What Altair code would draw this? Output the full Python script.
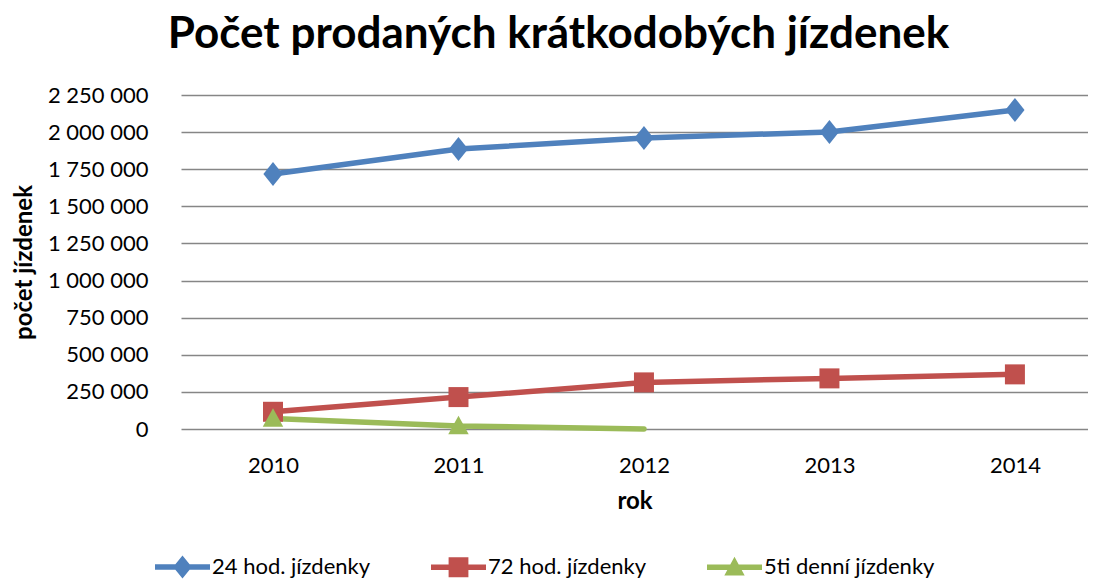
import altair as alt
import pandas as pd

years = [2010, 2011, 2012, 2013, 2014]
series_names = ["24 hod. jízdenky", "72 hod. jízdenky", "5ti denní jízdenky"]
vals_24h = [1718000, 1886000, 1960000, 2001000, 2149000]
vals_72h = [116000, 215000, 314000, 341000, 368000]
vals_5d = [70000, 20000, 0]
colors = ["#4F81BD", "#C0504D", "#9BBB59"]
y_ticks = [0, 250000, 500000, 750000, 1000000, 1250000, 1500000, 1750000, 2000000, 2250000]

rows = []
for y, v in zip(years, vals_24h):
    rows.append({"rok": y, "serie": series_names[0], "hodnota": v, "marker": True})
for y, v in zip(years, vals_72h):
    rows.append({"rok": y, "serie": series_names[1], "hodnota": v, "marker": True})
for y, v in zip(years[:3], vals_5d):
    rows.append({"rok": y, "serie": series_names[2], "hodnota": v, "marker": v > 0})
df = pd.DataFrame(rows)

FONT = "Lato"

marker_paths = ["M0,-1L0.8,0L0,1L-0.8,0Z", "M-1,-1L1,-1L1,1L-1,1Z", "M0,-1L1,0.8L-1,0.8Z"]
marker_sizes = [576, 400, 420]

leg_diamond = "M-1,-0.1L1,-0.1L1,0.1L-1,0.1Z M0,-0.42L0.34,0L0,0.42L-0.34,0Z"
leg_square = "M-1,-0.1L1,-0.1L1,0.1L-1,0.1Z M-0.36,-0.36L0.36,-0.36L0.36,0.36L-0.36,0.36Z"
leg_triangle = "M-1,-0.1L1,-0.1L1,0.1L-1,0.1Z M0,-0.38L0.37,0.3L-0.37,0.3Z"

shape_sig = (
    f"datum.value === '{series_names[0]}' ? '{leg_diamond}' : "
    f"datum.value === '{series_names[1]}' ? '{leg_square}' : '{leg_triangle}'"
)
fill_sig = (
    f"datum.value === '{series_names[0]}' ? '{colors[0]}' : "
    f"datum.value === '{series_names[1]}' ? '{colors[1]}' : '{colors[2]}'"
)

x_enc = alt.X(
    "rok:Q",
    scale=alt.Scale(domain=[2009.504, 2014.394], nice=False, zero=False),
    axis=alt.Axis(
        values=years, format="d", title="rok", grid=False, ticks=False, domain=False,
        labelFont=FONT, labelFontSize=22, labelColor="#000", labelPadding=26,
        titleFont=FONT, titleFontSize=24, titleFontWeight="bold", titleColor="#000",
        titleY=60, titleBaseline="top",
    ),
)
y_enc = alt.Y(
    "hodnota:Q",
    scale=alt.Scale(domain=[0, 2250000], nice=False),
    axis=alt.Axis(
        values=y_ticks, title="počet jízdenek", labelOverlap=False,
        labelExpr="replace(format(datum.value, ','), /,/g, ' ')",
        grid=True, gridColor="#868686", gridWidth=1.5, ticks=False, domain=False,
        labelFont=FONT, labelFontSize=22, labelColor="#000", labelPadding=33,
        titleFont=FONT, titleFontSize=24, titleFontWeight="bold", titleColor="#000",
        titleX=-145, titleAngle=-90,
    ),
)

legend = alt.Legend(
    title=None, orient="none", direction="horizontal", columns=3,
    legendX=-26, legendY=444,
    symbolSize=3025, symbolType={"expr": shape_sig},
    symbolFillColor={"expr": fill_sig}, symbolStrokeColor={"expr": fill_sig},
    symbolStrokeWidth=0, symbolOpacity=1,
    labelFont=FONT, labelFontSize=22, labelColor="#000", labelLimit=400,
    labelOffset=2, columnPadding=60,
)
color_enc = alt.Color("serie:N", scale=alt.Scale(domain=series_names, range=colors), legend=legend)

base = alt.Chart(df).encode(x=x_enc, y=y_enc, color=color_enc)

layers = [base.mark_line(strokeWidth=5.5, strokeJoin="round", strokeCap="round").encode(detail="serie:N")]
for name, path, size in zip(series_names, marker_paths, marker_sizes):
    layers.append(
        base.transform_filter(alt.datum.serie == name)
        .transform_filter("datum.marker")
        .mark_point(filled=True, opacity=1, strokeWidth=0, shape=path, size=size)
    )

chart = alt.layer(*layers).properties(
    width=907, height=334,
    title=alt.TitleParams(
        "Počet prodaných krátkodobých jízdenek", font=FONT, fontSize=44, fontWeight="bold",
        color="#000", anchor="middle", dx=-76, offset=27,
    ),
    autosize=alt.AutoSizeParams(type="none"),
    padding={"left": 173, "top": 87, "right": 0, "bottom": 151},
).configure_view(stroke=None)

chart.save("out.html", embed_options={"renderer": "svg", "actions": False})
